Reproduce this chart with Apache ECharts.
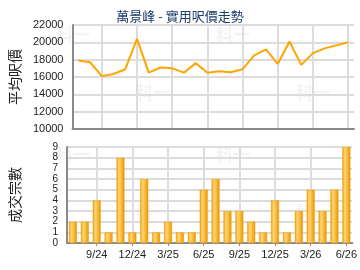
<!DOCTYPE html>
<html>
<head>
<meta charset="utf-8">
<script src="https://cdn.jsdelivr.net/npm/echarts@6/dist/echarts.min.js"></script>
<style>
  html, body { margin: 0; padding: 0; background: #fff; }
  #chart { width: 360px; height: 270px; }
</style>
</head>
<body>
<div id="chart"></div>
<script>
  // months from 7/24 to 6/26
  var months = ['7/24','8/24','9/24','10/24','11/24','12/24','1/25','2/25','3/25','4/25','5/25','6/25',
                '7/25','8/25','9/25','10/25','11/25','12/25','1/26','2/26','3/26','4/26','5/26','6/26'];
  var avgPrice = [17900, 17700, 16100, 16350, 16900, 20400, 16500, 17100, 17000, 16500, 17600, 16500,
                  16650, 16550, 16900, 18500, 19200, 17500, 20100, 17400, 18750, 19300, 19650, 20000];
  var dealCount = [2, 2, 4, 1, 8, 1, 6, 1, 2, 1, 1, 5, 6, 3, 3, 2, 1, 4, 1, 3, 5, 3, 5, 9];

  var chart = echarts.init(document.getElementById('chart'));

  var every3 = function (idx) { return idx % 3 === 2; };
  var latin = '"Liberation Sans", Arial, sans-serif';
  var cjk = '"Noto Sans CJK TC", sans-serif';

  var barColor = new echarts.graphic.LinearGradient(0, 0, 1, 0, [
    { offset: 0, color: '#eb9a00' },
    { offset: 0.3, color: '#ffd47a' },
    { offset: 0.55, color: '#fcc247' },
    { offset: 1, color: '#e59300' }
  ]);

  // faint watermark text
  var wm = [[56, 26], [216, 26], [136, 84], [296, 84], [56, 146], [216, 146], [136, 203], [296, 203]];
  var graphics = wm.map(function (p) {
    return {
      type: 'text', left: p[0], top: p[1], z: 0, silent: true,
      style: { text: '科一', fill: '#f3f3f3', font: 'bold 17px ' + cjk }
    };
  });

  var plain = function (v) { return String(v); };

  var option = {
    animation: false,
    title: {
      text: '萬景峰 - 實用呎價走勢',
      left: 'center',
      top: 5,
      textStyle: { fontFamily: cjk, fontSize: 13, fontWeight: 'normal', color: '#1d3d6b' }
    },
    graphic: graphics,
    grid: [
      { left: 66, right: 6, top: 25, height: 104 },
      { left: 66, right: 6, top: 147, height: 96 }
    ],
    xAxis: [
      {
        type: 'category', gridIndex: 0, data: months, boundaryGap: true,
        axisLine: { lineStyle: { color: '#8a8a8a', width: 2 } },
        axisTick: { show: false },
        axisLabel: { show: false, interval: every3 },
        splitLine: { show: true, interval: every3, alignWithLabel: true, lineStyle: { color: '#dcdcdc', width: 2 } }
      },
      {
        type: 'category', gridIndex: 1, data: months, boundaryGap: true,
        axisLine: { lineStyle: { color: '#8a8a8a', width: 2 } },
        axisTick: { show: true, interval: every3, alignWithLabel: true, length: 3, lineStyle: { color: '#8a8a8a' } },
        axisLabel: { interval: every3, color: '#222', fontFamily: latin, fontSize: 11, margin: 6 },
        splitLine: { show: true, interval: every3, alignWithLabel: true, lineStyle: { color: '#dcdcdc', width: 2 } }
      }
    ],
    yAxis: [
      {
        type: 'value', gridIndex: 0, min: 10000, max: 22000, interval: 2000,
        name: '平均呎價', nameLocation: 'middle', nameGap: 45,
        nameTextStyle: { fontFamily: cjk, fontSize: 14, color: '#222' },
        axisLine: { show: true, lineStyle: { color: '#8a8a8a', width: 2 } },
        axisTick: { show: false },
        axisLabel: { color: '#222', fontFamily: latin, fontSize: 11, margin: 9, formatter: plain },
        splitLine: { lineStyle: { color: '#dcdcdc', width: 2 } }
      },
      {
        type: 'value', gridIndex: 1, min: 0, max: 9, interval: 1,
        name: '成交宗數', nameLocation: 'middle', nameGap: 45,
        nameTextStyle: { fontFamily: cjk, fontSize: 14, color: '#222' },
        axisLine: { show: true, lineStyle: { color: '#8a8a8a', width: 2 } },
        axisTick: { show: false },
        axisLabel: { color: '#222', fontFamily: latin, fontSize: 10, margin: 9, formatter: plain },
        splitLine: { lineStyle: { color: '#dcdcdc', width: 2 } }
      }
    ],
    series: [
      {
        type: 'line', xAxisIndex: 0, yAxisIndex: 0, data: avgPrice,
        symbol: 'none', smooth: false,
        lineStyle: { color: '#ffa500', width: 2 }
      },
      {
        type: 'bar', xAxisIndex: 1, yAxisIndex: 1, data: dealCount,
        barWidth: 8,
        itemStyle: { color: barColor, borderColor: '#f0a000', borderWidth: 0.5 }
      }
    ]
  };

  chart.setOption(option);
</script>
</body>
</html>
